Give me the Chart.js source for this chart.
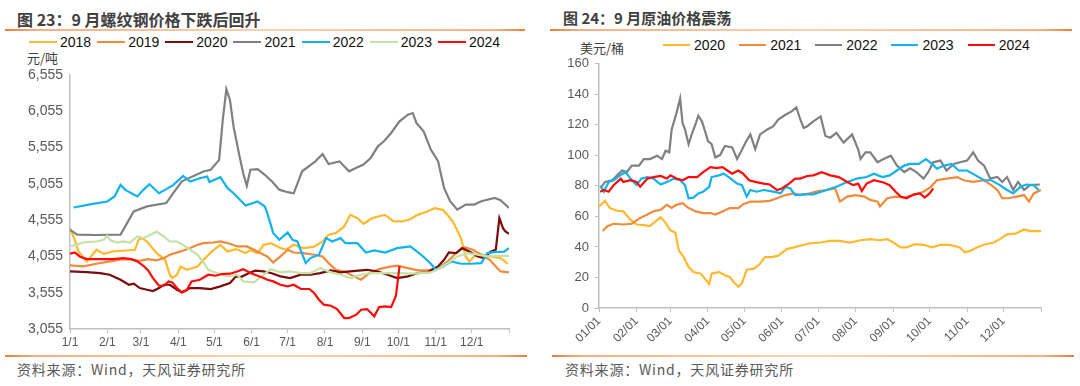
<!DOCTYPE html>
<html>
<head>
<meta charset="utf-8">
<script src="https://cdn.jsdelivr.net/npm/chart.js@4.4.1/dist/chart.umd.min.js"></script>
<style>
  body { margin: 0; background: #fff; }
  #page { position: relative; width: 1080px; height: 386px; overflow: hidden; font-family: "Liberation Sans", Arial, "Noto Sans CJK SC", sans-serif; }
  .title { position: absolute; top: 7px; font-family: "Noto Sans CJK SC", sans-serif; font-weight: bold; color: #404040; white-space: nowrap; }
  .rule { position: absolute; height: 2px; background: linear-gradient(to right, #ED7D31 0, #F4B183 6%, #F9D3B0 50%, #F4B183 94%, #ED7D31 100%); }
  .source { position: absolute; top: 359px; font-family: "Noto Sans CJK SC", sans-serif; font-size: 14px; letter-spacing: 0.8px; color: #595959; white-space: nowrap; }
  .unit { position: absolute; font-family: "Noto Sans CJK SC", sans-serif; font-size: 13px; color: #404040; white-space: nowrap; }
  .legend { position: absolute; display: flex; align-items: center; white-space: nowrap; }
  .legend .item { display: flex; align-items: center; font-size: 14px; color: #111; }
  .legend .swatch { display: inline-block; height: 2.5px; }
  canvas { position: absolute; }
</style>
</head>
<body>
<div id="page">
  <div class="title" style="left:17px; font-size:16px;">图 23：9 月螺纹钢价格下跌后回升</div>
  <div class="rule" style="left:5px; width:520px; top:29px;"></div>
  <div class="legend" id="legendRebar" style="left:29px; top:34px;"></div>
  <div class="unit" style="left:27px; top:48px;">元/吨</div>
  <div style="position:absolute; left:0; top:55px; width:525px; height:300px;"><canvas id="rebarChart"></canvas></div>
  <div class="rule" style="left:5px; width:522px; top:355px;"></div>
  <div class="source" style="left:17px;">资料来源：Wind，天风证券研究所</div>

  <div class="title" style="left:563px; font-size:15px;">图 24：9 月原油价格震荡</div>
  <div class="rule" style="left:550px; width:522px; top:29px;"></div>
  <div class="unit" style="left:580px; top:38px;">美元/桶</div>
  <div class="legend" id="legendOil" style="left:663px; top:37px;"></div>
  <div style="position:absolute; left:545px; top:50px; width:510px; height:300px;"><canvas id="oilChart"></canvas></div>
  <div class="rule" style="left:552px; width:522px; top:355px;"></div>
  <div class="source" style="left:565px;">资料来源：Wind，天风证券研究所</div>
</div>
<script>
// ---- rebar (left) : [day of year, 元/吨]
const rebar2018 = [[0,4445],[4,4284],[7,4124],[14,3986],[18,4064],[22,4147],[28,4092],[36,4124],[47,4137],[54,4147],[57,4284],[60,4307],[64,4261],[72,4101],[79,4009],[83,3803],[85,3757],[89,3803],[92,3917],[97,3871],[106,3917],[111,4009],[118,4124],[125,4215],[131,4124],[138,4156],[146,4101],[150,4140],[156,4101],[161,4215],[167,4238],[175,4170],[180,4150],[186,4215],[194,4170],[203,4190],[210,4261],[215,4353],[221,4376],[228,4468],[233,4628],[239,4582],[244,4505],[251,4580],[256,4605],[262,4628],[269,4537],[276,4537],[282,4560],[289,4628],[297,4674],[303,4720],[310,4697],[315,4605],[319,4514],[325,4307],[329,4055],[332,3986],[336,4055],[343,4078],[350,4055],[358,4032],[364,3954]];
const rebar2019 = [[0,3931],[11,3917],[22,3954],[33,3986],[44,4018],[53,4009],[58,3995],[65,4018],[72,4000],[78,4032],[83,4078],[92,4124],[100,4170],[106,4215],[111,4238],[119,4247],[125,4261],[133,4230],[139,4193],[147,4193],[153,4147],[161,4078],[164,4055],[169,3972],[175,4055],[181,4147],[186,4109],[194,4101],[203,4078],[210,4055],[215,3963],[221,3871],[228,3848],[236,3780],[242,3734],[249,3826],[257,3880],[264,3908],[272,3927],[281,3894],[289,3862],[297,3862],[306,3894],[314,3986],[321,4101],[328,4183],[335,4147],[342,4078],[349,4009],[354,3917],[358,3848],[365,3835]];
const rebar2020 = [[0,3848],[14,3839],[25,3826],[33,3803],[42,3734],[49,3665],[53,3679],[58,3619],[64,3596],[69,3578],[74,3619],[78,3665],[83,3665],[89,3596],[93,3560],[100,3619],[108,3619],[117,3606],[125,3642],[133,3688],[138,3780],[142,3771],[149,3826],[154,3858],[161,3848],[167,3826],[175,3780],[183,3757],[192,3803],[200,3803],[208,3826],[217,3862],[225,3835],[233,3848],[242,3862],[247,3871],[256,3848],[264,3803],[272,3757],[281,3780],[289,3826],[297,3835],[306,3917],[311,4009],[315,4109],[321,4101],[326,4170],[332,4124],[339,4055],[344,4032],[350,4124],[354,4147],[357,4583],[360,4445],[362,4399],[365,4367]];
const rebar2021 = [[0,4422],[6,4355],[20,4350],[42,4355],[53,4675],[64,4745],[80,4790],[86,4930],[93,5090],[111,5225],[117,5250],[124,5385],[127,5935],[130,6358],[133,6211],[136,5844],[141,5431],[144,5202],[147,5028],[150,5250],[156,5258],[162,5180],[168,5088],[174,4975],[181,4940],[186,4925],[193,5228],[204,5365],[210,5466],[215,5329],[224,5365],[232,5228],[239,5283],[244,5320],[250,5412],[256,5572],[261,5641],[267,5756],[274,5916],[281,6008],[285,6031],[288,5894],[294,5779],[300,5527],[306,5366],[311,4999],[316,4816],[322,4700],[329,4770],[336,4770],[342,4816],[353,4862],[358,4830],[365,4724]];
const rebar2022 = [[3,4729],[19,4780],[31,4812],[37,4881],[42,5041],[46,4972],[51,4926],[56,4881],[61,4972],[66,5050],[74,4926],[79,4972],[86,5041],[94,5165],[100,5087],[108,5133],[114,5156],[116,5080],[125,5147],[131,4996],[136,4926],[146,4757],[156,4812],[162,4743],[164,4652],[169,4376],[174,4284],[181,4385],[185,4284],[189,4261],[196,3963],[200,4032],[207,4078],[213,4307],[218,4261],[225,4307],[229,4238],[239,4238],[246,4109],[253,4137],[262,4109],[272,4169],[283,4192],[292,4078],[300,3954],[304,3871],[310,3917],[317,3986],[325,3954],[333,3954],[342,3963],[347,4101],[353,4115],[361,4120],[365,4170]];
const rebar2023 = [[1,4193],[11,4247],[22,4261],[28,4284],[31,4340],[33,4284],[39,4247],[44,4261],[50,4247],[56,4330],[61,4307],[67,4353],[72,4399],[78,4330],[83,4261],[89,4261],[94,4215],[100,4147],[106,4078],[111,3972],[115,3871],[122,3826],[131,3780],[139,3803],[144,3711],[153,3697],[161,3803],[167,3880],[175,3835],[183,3848],[192,3826],[200,3826],[208,3894],[217,3835],[225,3803],[233,3757],[242,3803],[250,3826],[258,3826],[267,3826],[275,3826],[283,3817],[292,3826],[300,3835],[306,3880],[314,3963],[322,4055],[331,4101],[339,4078],[347,4055],[356,4064],[365,4064]];
const rebar2024 = [[0,4092],[4,4109],[8,4055],[14,4018],[25,4018],[36,4018],[44,4032],[51,4018],[56,3986],[61,3926],[65,3862],[69,3757],[74,3651],[78,3651],[82,3711],[85,3697],[89,3619],[93,3560],[97,3587],[101,3711],[108,3734],[115,3803],[121,3789],[126,3812],[133,3817],[139,3848],[144,3880],[150,3826],[156,3789],[161,3757],[164,3734],[169,3711],[175,3665],[181,3642],[186,3665],[192,3606],[199,3606],[203,3551],[207,3459],[211,3390],[217,3376],[222,3330],[228,3206],[232,3206],[238,3252],[242,3321],[247,3330],[253,3229],[257,3357],[262,3367],[267,3357],[271,3513],[274,3926]];
const rebarYears = ['2018', '2019', '2020', '2021', '2022', '2023', '2024'];
const rebarColors = ['#FFB92E', '#F28A3C', '#7B0C0C', '#808080', '#11B2EE', '#C4E2A4', '#FF0A0A'];
const rebarTicks = [3055, 3555, 4055, 4555, 5055, 5555, 6055, 6555];

// ---- crude oil (right) : [day of year, 美元/桶]
const oil2020 = [[0,66.5],[5,70.2],[9,65.5],[15,63.7],[20,63.3],[26,57.9],[31,54.7],[37,54.3],[42,53.6],[47,56.9],[51,59.4],[55,55.8],[59,50.9],[63,49.4],[66,37.6],[70,33.3],[74,26.8],[78,23.6],[84,22.5],[88,18.7],[91,15.7],[93,22.5],[99,23.6],[104,21.5],[108,20.4],[111,17.2],[115,13.9],[118,16.1],[122,25.1],[128,25.8],[133,29],[137,33.3],[143,33.3],[148,34.3],[155,38.6],[161,39.7],[166,40.8],[174,42.3],[183,42.9],[191,44],[199,44],[207,42.9],[216,44.4],[224,45.1],[232,44.4],[238,45.1],[243,42.9],[249,39.7],[254,39.7],[261,41.8],[268,41.4],[275,39.7],[282,41.4],[290,41.4],[298,39.7],[302,36.5],[307,37.6],[312,39.7],[319,41.8],[326,42.9],[331,45.1],[337,48.3],[344,48.7],[351,51.5],[356,50.4],[365,50.4]];
const oil2021 = [[3,50.4],[7,53.6],[12,55.2],[20,54.7],[27,55.2],[34,59],[40,61.2],[45,63.3],[51,64.4],[56,67.6],[60,65.5],[64,67.6],[69,68.7],[74,65.5],[80,63.3],[86,62.2],[92,62.2],[96,61.2],[102,63.3],[108,65.5],[115,65.5],[119,68],[125,69.7],[133,69.7],[141,70.2],[147,71.9],[154,74],[161,75.1],[166,74],[174,75.1],[181,76.6],[188,77.3],[195,78.3],[199,69.7],[205,73],[212,74],[219,73],[224,70.8],[230,69.7],[232,66.5],[238,71.9],[245,73],[252,72.3],[260,74],[268,76.2],[274,79.4],[279,83.7],[287,84.8],[296,85.8],[301,83.7],[309,82.6],[318,83.7],[324,80.5],[329,77.3],[333,71.9],[338,71.9],[345,73],[351,74],[355,69.7],[359,75.1],[365,77.3]];
const oil2022 = [[2,79.4],[5,82.6],[11,83.7],[15,86.9],[19,90.1],[23,89],[27,93.3],[33,93.3],[37,97.6],[42,97.6],[48,99.8],[52,97.6],[55,103],[58,102],[60,117],[64,127.7],[67,137.3],[69,121.2],[71,117],[74,107.3],[77,114.8],[80,121.2],[82,126],[85,122.3],[88,114.8],[90,109.4],[93,107.3],[96,98.7],[100,100.2],[104,106.2],[110,105.2],[114,97.6],[117,102],[121,108.4],[125,113.7],[129,104],[133,113.7],[139,117],[144,119.1],[148,123.4],[154,126.6],[159,128.8],[163,131.5],[166,124],[169,118],[172,119.1],[177,122.3],[183,125.5],[187,112.7],[191,111.6],[196,114.8],[202,108.4],[209,113.7],[214,104],[216,97.6],[220,102],[224,102],[230,95.5],[235,97.6],[241,99.8],[246,93.3],[252,89.1],[257,91.6],[262,89.1],[268,84.8],[272,89.1],[276,95.5],[282,96.6],[287,90.1],[293,94.4],[298,95.5],[304,96.6],[309,102],[313,96.6],[318,93.3],[323,84.8],[329,85.8],[333,82.6],[337,85.8],[342,77.3],[346,82.6],[351,77.3],[356,80.5],[364,80.9]];
const oil2023 = [[1,80],[4,76.2],[8,82.6],[12,83.7],[18,87.3],[22,89],[26,84.8],[31,80.5],[35,84.8],[40,85.8],[45,84.8],[51,80.9],[56,82.6],[62,84.8],[67,83.7],[71,80.5],[74,71.9],[78,72.3],[82,75.1],[86,76.2],[91,79.4],[93,85.8],[99,86.9],[103,88],[108,85.2],[114,81.5],[118,80.5],[122,73],[125,77.3],[130,76.2],[136,77.3],[144,76.2],[150,75.1],[154,79.4],[158,78.3],[162,74],[169,74.5],[177,74.5],[188,77.3],[196,79.4],[205,82.6],[213,84.8],[221,85.8],[227,88],[234,85.8],[240,86.9],[246,90.1],[252,93.3],[257,94.4],[264,94.4],[270,97.6],[275,94.4],[279,91.2],[285,93.3],[291,94.4],[297,90.1],[304,90.1],[311,86.9],[318,83.7],[324,83.7],[331,80.5],[337,77.3],[342,75.1],[348,79.4],[353,80.9],[359,80.5],[363,77.3]];
const oil2024 = [[1,76.2],[4,77.3],[8,76.2],[12,80.5],[18,84.8],[20,82.6],[26,83.7],[31,82.6],[34,79.4],[40,84.8],[45,85.8],[51,86.5],[56,84.8],[59,86.9],[64,84.8],[69,83.7],[74,85.8],[81,85.8],[86,89],[92,92.3],[97,91.6],[102,92.3],[106,90.1],[110,88],[115,90.1],[119,88],[124,83.7],[129,82.6],[136,81.5],[141,80.9],[147,77.3],[151,78.3],[157,81.5],[162,84.8],[166,84.8],[172,86.5],[177,86.9],[184,89],[191,86.9],[198,85.8],[205,82.6],[210,80.5],[214,81.5],[217,76.6],[221,81.5],[227,83.7],[235,82.2],[240,80.5],[245,76.2],[249,73],[254,71.9],[260,74.5],[265,75.1],[269,72.3],[273,75.1],[276,78.3]];
const oilYears = ['2020', '2021', '2022', '2023', '2024'];
const oilColors = ['#FFB92E', '#F28A3C', '#808080', '#11B2EE', '#FF0A0A'];
const oilTicks = [0, 20, 40, 60, 80, 100, 120, 140, 160];

// month starts (day of year) and their labels; 365 closes the axis
const monthDays = [0, 31, 59, 90, 120, 151, 181, 212, 243, 273, 304, 334, 365];
const rebarMonthLabels = ['1/1', '2/1', '3/1', '4/1', '5/1', '6/1', '7/1', '8/1', '9/1', '10/1', '11/1', '12/1', ''];
const oilMonthLabels = ['01/01', '02/01', '03/01', '04/01', '05/01', '06/01', '07/01', '08/01', '09/01', '10/01', '11/01', '12/01', ''];

function buildLegend(id, years, colors, swatchW, gapText, gapItem) {
    const box = document.getElementById(id);
    years.forEach((yr, i) => {
        const item = document.createElement('span');
        item.className = 'item';
        item.style.marginRight = gapItem + 'px';
        item.innerHTML = '<span class="swatch" style="width:' + swatchW + 'px;background:' + colors[i] +
            ';margin-right:' + gapText + 'px"></span>' + yr;
        box.appendChild(item);
    });
}

function makeDatasets(years, colors, series) {
    return years.map((yr, i) => ({
        label: yr,
        data: series[i].map(p => ({ x: p[0], y: p[1] })),
        borderColor: colors[i],
        backgroundColor: colors[i],
        borderWidth: 2.2,
        pointRadius: 0,
        tension: 0,
        order: years.length - i
    }));
}

const axisColor = '#BFBFBF';
const tickColor = '#595959';

function makeChart(canvasId, cfg) {
    return new Chart(document.getElementById(canvasId), {
        type: 'line',
        data: { datasets: cfg.datasets },
        options: {
            responsive: true,
            maintainAspectRatio: false,
            animation: false,
            layout: { padding: cfg.padding },
            plugins: { legend: { display: false }, tooltip: { enabled: false } },
            scales: {
                x: {
                    type: 'linear',
                    min: 0,
                    max: 365,
                    afterBuildTicks: s => { s.ticks = monthDays.map(v => ({ value: v })); },
                    afterFit: s => { s.height = cfg.xHeight; },
                    grid: { drawOnChartArea: false, drawTicks: true, tickLength: 4, color: axisColor, lineWidth: 1 },
                    border: { color: axisColor, width: 1.5 },
                    ticks: {
                        autoSkip: false,
                        maxRotation: cfg.rotation,
                        minRotation: cfg.rotation,
                        padding: 2,
                        color: tickColor,
                        font: { family: '"Liberation Sans", Arial', size: 12 },
                        callback: (v, i) => cfg.monthLabels[i]
                    }
                },
                y: {
                    min: cfg.yTicks[0],
                    max: cfg.yTicks[cfg.yTicks.length - 1],
                    afterBuildTicks: s => { s.ticks = cfg.yTicks.map(v => ({ value: v })); },
                    afterFit: s => { s.width = cfg.yWidth; },
                    grid: { drawOnChartArea: false, drawTicks: cfg.yTickMarks, tickLength: 4, color: axisColor },
                    border: { color: axisColor, width: 1.5 },
                    ticks: {
                        padding: cfg.yPad,
                        color: tickColor,
                        font: { family: '"Liberation Sans", Arial', size: cfg.yFont },
                        callback: v => v.toLocaleString('en-US')
                    }
                }
            }
        }
    });
}

buildLegend('legendRebar', rebarYears, rebarColors, 28, 3, 6);
buildLegend('legendOil', oilYears, oilColors, 27, 4, 14);

makeChart('rebarChart', {
    datasets: makeDatasets(rebarYears, rebarColors, [rebar2018, rebar2019, rebar2020, rebar2021, rebar2022, rebar2023, rebar2024]),
    padding: { top: 20, right: 16, left: 0, bottom: 0 },
    xHeight: 26,
    yWidth: 70,
    yPad: 7,
    yFont: 14,
    yTickMarks: false,
    yTicks: rebarTicks,
    rotation: 0,
    monthLabels: rebarMonthLabels
});

makeChart('oilChart', {
    datasets: makeDatasets(oilYears, oilColors, [oil2020, oil2021, oil2022, oil2023, oil2024]),
    padding: { top: 10, right: 14, left: 0, bottom: 0 },
    xHeight: 42,
    yWidth: 54,
    yPad: 6,
    yFont: 13,
    yTickMarks: true,
    yTicks: oilTicks,
    rotation: 45,
    monthLabels: oilMonthLabels
});
</script>
</body>
</html>
